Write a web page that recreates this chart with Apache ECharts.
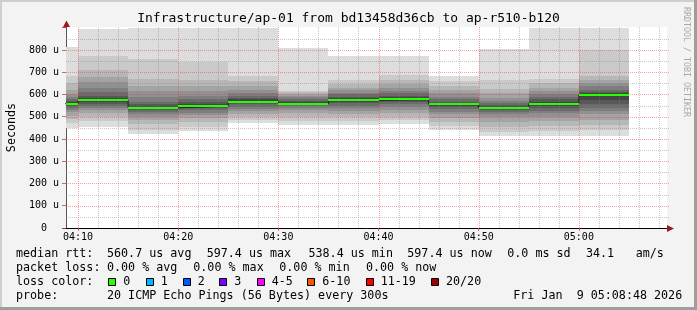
<!DOCTYPE html>
<html><head><meta charset="utf-8">
<script src="https://cdn.jsdelivr.net/npm/echarts@6/dist/echarts.min.js"></script>
<style>html,body{margin:0;padding:0;background:#f3f3f3}#c{width:697px;height:310px}</style>
</head><body><div id="c"></div>
<script>
// ---- data ----
const windowStart = '04:08:48';
const windowEnd = '05:08:48';
const segStarts = ['04:05','04:10','04:15','04:20','04:25','04:30','04:35','04:40','04:45','04:50','04:55','05:00'];
const segLength = 300; // seconds per step
const medians = [558, 574, 540, 547, 568, 559, 574, 579, 556, 538.4, 559, 597.4];
// 20 sorted ping RTTs (µs) for each step
const pings = [
  [450,470,490,505,520,530,540,548,553,557,560,565,572,580,590,602,622,650,684,815],
  [455,480,500,515,528,540,550,558,565,570,578,585,595,610,630,655,680,710,771,895],
  [423,440,465,485,500,512,522,530,535,538,542,548,556,568,590,615,640,670,761,900],
  [437,455,475,495,508,518,528,537,542,545,549,555,565,578,595,615,640,665,744,900],
  [470,485,500,512,525,535,545,555,560,565,571,578,585,593,605,620,640,660,682,900],
  [462,480,500,515,528,538,546,551,555,557,561,565,570,578,588,595,603,609,614,809],
  [464,480,498,512,525,538,550,560,566,572,576,582,590,600,608,618,630,645,665,771],
  [468,485,500,515,530,545,555,565,572,577,581,587,595,605,615,628,645,665,688,774],
  [440,458,478,495,510,522,533,542,548,553,557,562,568,578,590,605,620,640,660,681],
  [413,432,455,478,498,512,522,529,533,536,541,546,553,562,572,585,605,625,667,804],
  [412,435,458,480,500,515,527,540,550,556,562,568,578,590,600,615,630,650,668,900],
  [412,442,464,487,510,524,539,555,575,594,602,605,612,621,636,651,666,681,798,900]
];
const xTickLabels = ['04:10','04:20','04:30','04:40','04:50','05:00'];
const yTickValues = [0,100,200,300,400,500,600,700,800];
const yMax = 903;
const lossLabels = ['0','1','2','3','4-5','6-10','11-19','20/20'];
const lossColors = ['#26ff00','#00b8ff','#0059ff','#7e00ff','#ff00ff','#ff5500','#ff0000','#a10000'];
const titleText = 'Infrastructure/ap-01 from bd13458d36cb to ap-r510-b120';

// ---- helpers ----
function toSec(s){const p=s.split(':').map(Number);return p[0]*3600+p[1]*60+(p[2]||0);}
const xMin = toSec(windowStart), xMax = toSec(windowEnd);
const MONO = '"DejaVu Sans Mono", monospace';
const labelByValue = {};
xTickLabels.forEach(l => labelByValue[toSec(l)] = l);

const smokeData = pings.map((row,i)=>[toSec(segStarts[i]), toSec(segStarts[i])+segLength].concat(row));
const medianData = medians.map((m,i)=>[toSec(segStarts[i]), toSec(segStarts[i])+segLength, m]);
const stepData = medians.map((m,i)=>[toSec(segStarts[i]), m]);
stepData.push([toSec(segStarts[segStarts.length-1])+segLength, medians[medians.length-1]]);

// grid line positions (every 2 min / every 50 µs)
const vGrid = [];
for (let t = toSec(xTickLabels[0]) - 600; t < xMax; t += 120) if (t > xMin) vGrid.push([t, 0, (t - toSec(xTickLabels[0])) % 600 === 0 ? 1 : 0]);
const hGrid = [];
for (let v = 50; v < 900; v += 50) hGrid.push([xMin, v, v % 100 === 0 ? 1 : 0]);

function clampX(cs, a, b){return [Math.max(a, cs.x), Math.min(b, cs.x+cs.width)];}

function renderSmoke(params, api){
  const cs = params.coordSys;
  const t0 = api.value(0), t1 = api.value(1);
  let [x0, x1] = clampX(cs, Math.round(api.coord([t0,0])[0]), Math.round(api.coord([t1,0])[0]));
  if (x1 <= x0) return;
  const half = 10, children = [];
  for (let i = 1; i <= half; i++){
    const lo = api.value(1+i), hi = api.value(22-i);
    const g = Math.floor(190/half*(half-i)) + 50;
    const yLo = Math.round(api.coord([t0, lo])[1]);
    const yHi = Math.max(Math.round(api.coord([t0, hi])[1]), cs.y);
    children.push({type:'rect', shape:{x:x0, y:yHi, width:x1-x0, height:yLo-yHi}, style:{fill:'rgb('+g+','+g+','+g+')'}, silent:true});
  }
  return {type:'group', children};
}
function renderMedian(params, api){
  const cs = params.coordSys;
  let [x0, x1] = clampX(cs, Math.round(api.coord([api.value(0),0])[0]), Math.round(api.coord([api.value(1),0])[0]));
  if (x1 <= x0) return;
  const y = Math.round(api.coord([api.value(0), api.value(2)])[1]);
  return {type:'line', shape:{x1:x0, y1:y, x2:x1, y2:y}, style:{stroke:lossColors[0], lineWidth:2}, silent:true};
}
function renderV(params, api){
  const cs = params.coordSys;
  const x = Math.round(api.coord([api.value(0),0])[0]) + 0.5;
  const major = api.value(2) === 1;
  return {type:'line', shape:{x1:x, y1:cs.y, x2:x, y2:cs.y+cs.height},
    style:{stroke: major ? 'rgba(255,40,40,0.45)' : 'rgba(130,130,130,0.45)', lineWidth:1, lineDash:[1,1]}, silent:true};
}
function renderH(params, api){
  const cs = params.coordSys;
  const y = Math.round(api.coord([api.value(0), api.value(1)])[1]) + 0.5;
  const major = api.value(2) === 1;
  return {type:'line', shape:{x1:cs.x, y1:y, x2:cs.x+cs.width+2, y2:y},
    style:{stroke: major ? 'rgba(255,40,40,0.45)' : 'rgba(130,130,130,0.45)', lineWidth:1, lineDash:[1,1]}, silent:true};
}

// ---- legend / decorations ----
const legendRows = [
  [254, [[16,'median rtt:'],[107,'560.7 us avg'],[206.7,'597.4 us max'],[308.5,'538.4 us min'],[407.3,'597.4 us now'],[507.3,'0.0 ms sd'],[586,'34.1'],[635.7,'am/s']]],
  [268, [[16,'packet loss:'],[107,'0.00 % avg'],[193.3,'0.00 % max'],[279.3,'0.00 % min'],[366,'0.00 % now']]],
  [282, [[16,'loss color:']]],
  [296, [[16,'probe:'],[107,'20 ICMP Echo Pings (56 Bytes) every 300s'],[513.3,'Fri Jan  9 05:08:48 2026']]]
];
const boxX = [108.3,145.7,182.7,219.3,256.7,307.3,365.7,431];
const graphics = [
  {type:'rect', shape:{x:0,y:0,width:697,height:2}, style:{fill:'#cfcfcf'}, silent:true},
  {type:'rect', shape:{x:0,y:0,width:2,height:310}, style:{fill:'#cfcfcf'}, silent:true},
  {type:'rect', shape:{x:694,y:0,width:3,height:310}, style:{fill:'#9e9e9e'}, silent:true},
  {type:'rect', shape:{x:0,y:307,width:697,height:3}, style:{fill:'#9e9e9e'}, silent:true},
  {type:'line', shape:{x1:62, y1:228.5, x2:66, y2:228.5}, style:{stroke:'#000', lineWidth:1}, silent:true},
  {type:'polygon', shape:{points:[[63,27],[70,27],[66.5,20.5]]}, style:{fill:'#9b1c1c'}, silent:true, z:100},
  {type:'polygon', shape:{points:[[667,225],[667,232],[674,228.5]]}, style:{fill:'#9b1c1c'}, silent:true, z:100},
  {type:'text', x:686, y:62, rotation:-Math.PI/2, style:{text:'RRDTOOL / TOBI OETIKER', font:'8.3px '+MONO, fill:'#a8a8a8', align:'center', verticalAlign:'middle'}, silent:true}
];
legendRows.forEach(([y, items]) => items.forEach(([x, s]) => graphics.push({type:'text', x, y, style:{text:s, font:'11.7px '+MONO, fill:'#000', align:'left', verticalAlign:'middle'}, silent:true})));
lossLabels.forEach((l,i) => {
  const bx = Math.round(boxX[i]);
  graphics.push({type:'rect', shape:{x:bx+0.5, y:278.5, width:7, height:7}, style:{fill:lossColors[i], stroke:'#000', lineWidth:1}, silent:true});
  graphics.push({type:'text', x:boxX[i]+15, y:282, style:{text:l, font:'11.7px '+MONO, fill:'#000', align:'left', verticalAlign:'middle'}, silent:true});
});

const chart = echarts.init(document.getElementById('c'), null, {renderer:'canvas', width:697, height:310});
chart.setOption({
  animation:false,
  backgroundColor:'#f3f3f3',
  title:{text:titleText, left:'center', top:12, padding:0, textStyle:{fontFamily:MONO, fontSize:13, fontWeight:'normal', color:'#000'}},
  grid:{left:66, right:30, top:27, bottom:82, show:true, backgroundColor:'#ffffff', borderWidth:0, containLabel:false, outerBoundsMode:'none'},
  xAxis:{type:'value', min:xMin, max:xMax,
    axisLine:{show:true, onZero:false, lineStyle:{color:'#000', width:1}},
    axisTick:{show:true, customValues:xTickLabels.map(toSec), length:3, lineStyle:{color:'rgba(220,60,60,0.8)'}},
    axisLabel:{customValues:xTickLabels.map(toSec), formatter:v => labelByValue[v] || '', fontFamily:MONO, fontSize:10, color:'#000', margin:4},
    splitLine:{show:false}},
  yAxis:{type:'value', min:0, max:yMax, interval:100,
    name:'Seconds', nameLocation:'middle', nameGap:48, nameTextStyle:{fontFamily:MONO, fontSize:11.7, color:'#000'},
    axisLine:{show:true, lineStyle:{color:'#555', width:1}},
    axisTick:{show:true, length:4, lineStyle:{color:'rgba(220,60,60,0.8)'}},
    axisLabel:{formatter:v => yTickValues.indexOf(v) < 0 ? '' : (v === 0 ? '0  ' : v + ' u'), fontFamily:MONO, fontSize:10, color:'#000', margin:7},
    splitLine:{show:false}},
  graphic:graphics,
  series:[
    {type:'custom', name:'smoke', renderItem:renderSmoke, data:smokeData, encode:{x:[0,1], y:[2]}, z:2, silent:true},
    {type:'custom', name:'vgrid', renderItem:renderV, data:vGrid, encode:{x:0, y:1}, z:4, silent:true},
    {type:'custom', name:'hgrid', renderItem:renderH, data:hGrid, encode:{x:0, y:1}, z:4, silent:true},
    {type:'line', name:'median-step', data:stepData, step:'end', symbol:'none', lineStyle:{color:'#202020', width:1}, z:5, silent:true, clip:true},
    {type:'custom', name:'median', renderItem:renderMedian, data:medianData, encode:{x:[0,1], y:2}, z:6, silent:true}
  ]
});
</script></body></html>
